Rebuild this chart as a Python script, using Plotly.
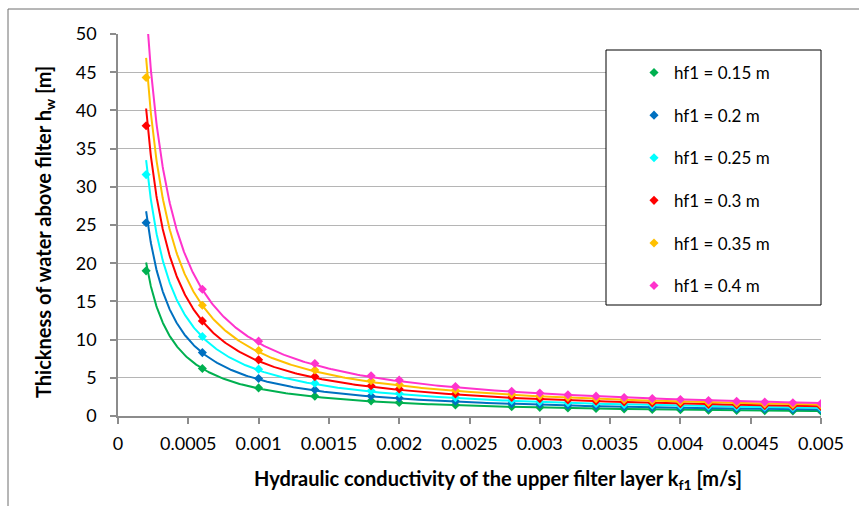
import numpy as np
import plotly.graph_objects as go

# ---- data ----
k_values = [0.0002, 0.0006, 0.001, 0.0014, 0.0018, 0.002, 0.0024, 0.0028, 0.003,
            0.0032, 0.0034, 0.0036, 0.0038, 0.004, 0.0042, 0.0044, 0.0046, 0.0048, 0.005]

h_015 = [19.0, 6.22, 3.68, 2.58, 1.98, 1.76, 1.44, 1.22, 1.13, 1.05, 0.98, 0.91,
         0.86, 0.81, 0.76, 0.72, 0.68, 0.65, 0.62]
h_020 = [25.3, 8.30, 4.90, 3.44, 2.63, 2.35, 1.93, 1.62, 1.50, 1.39, 1.30, 1.22,
         1.14, 1.08, 1.01, 0.96, 0.91, 0.86, 0.82]
h_025 = [31.6, 10.4, 6.13, 4.30, 3.29, 2.94, 2.41, 2.03, 1.88, 1.74, 1.63, 1.52,
         1.43, 1.34, 1.27, 1.20, 1.14, 1.08, 1.03]
h_030 = [38.0, 12.45, 7.35, 5.16, 3.95, 3.53, 2.89, 2.43, 2.25, 2.09, 1.95, 1.83,
         1.71, 1.61, 1.52, 1.44, 1.36, 1.29, 1.23]
h_035 = [44.3, 14.5, 8.58, 6.02, 4.61, 4.11, 3.37, 2.84, 2.63, 2.44, 2.28, 2.13,
         2.00, 1.88, 1.77, 1.68, 1.59, 1.51, 1.44]
h_040 = [50.6, 16.6, 9.80, 6.88, 5.27, 4.70, 3.85, 3.24, 3.00, 2.79, 2.60, 2.43,
         2.28, 2.15, 2.03, 1.92, 1.82, 1.73, 1.64]

series_names = ["hf1 = 0.15 m", "hf1 = 0.2 m", "hf1 = 0.25 m",
                "hf1 = 0.3 m", "hf1 = 0.35 m", "hf1 = 0.4 m"]
series_values = [h_015, h_020, h_025, h_030, h_035, h_040]
series_colors = ["#00B050", "#0070C0", "#00FFFF", "#FF0000", "#FFC000", "#FF33CC"]

x_tickvals = [0, 0.0005, 0.001, 0.0015, 0.002, 0.0025, 0.003, 0.0035, 0.004, 0.0045, 0.005]
x_ticktext = ["0", "0.0005", "0.001", "0.0015", "0.002", "0.0025", "0.003",
              "0.0035", "0.004", "0.0045", "0.005"]
y_tickvals = [0, 5, 10, 15, 20, 25, 30, 35, 40, 45, 50]

x_title = "<b>Hydraulic conductivity of the upper filter layer k<sub>f1</sub> [m/s]</b>"
y_title = "<b>Thickness of water above filter h<sub>w</sub> [m]</b>"

FONT = "Lato"

fig = go.Figure()

k_arr = np.array(k_values)
k_dense = np.geomspace(k_arr.min(), k_arr.max(), 300)

# power trendlines (as in the original spreadsheet chart)
for name, vals, col in zip(series_names, series_values, series_colors):
    b, ln_a = np.polyfit(np.log(k_arr), np.log(np.array(vals)), 1)
    fig.add_trace(go.Scatter(
        x=k_dense, y=np.exp(ln_a) * k_dense ** b, mode="lines",
        line=dict(color=col, width=2), showlegend=False, hoverinfo="skip"))

# data markers
for i, (name, vals, col) in enumerate(zip(series_names, series_values, series_colors)):
    fig.add_trace(go.Scatter(
        x=k_values, y=vals, mode="markers", name=name, legendgroup=f"g{i}",
        marker=dict(symbol="diamond", size=7, color=col)))

def px_x(p):
    return (p - 118) / 703.0

def px_y(p):
    return (416 - p) / 382.0

shapes = [
    # legend box
    dict(type="rect", xref="paper", yref="paper", x0=px_x(606), x1=px_x(821),
         y0=px_y(305), y1=px_y(50), line=dict(color="#000000", width=1),
         fillcolor="white", layer="above"),
    # chart frame (top and left edges visible)
    dict(type="line", xref="paper", yref="paper", x0=px_x(8), x1=px_x(870),
         y0=px_y(9), y1=px_y(9), line=dict(color="#6e6e6e", width=1)),
    dict(type="line", xref="paper", yref="paper", x0=px_x(8), x1=px_x(8),
         y0=px_y(9), y1=px_y(520), line=dict(color="#6e6e6e", width=1)),
]

annotations = [
    dict(text=x_title, xref="paper", yref="paper", x=px_x(497.5), y=px_y(479),
         xanchor="center", yanchor="middle", showarrow=False,
         font=dict(family=FONT, size=20, color="#000000")),
    dict(text=y_title, xref="paper", yref="paper", x=px_x(45), y=px_y(232),
         xanchor="center", yanchor="middle", showarrow=False, textangle=-90,
         font=dict(family=FONT, size=20, color="#000000")),
]

axis_col = "#8c8c8c"
fig.update_layout(
    width=859, height=506,
    margin=dict(l=118, r=38, t=34, b=90),
    paper_bgcolor="white", plot_bgcolor="white",
    font=dict(family=FONT, size=17, color="#000000"),
    shapes=shapes,
    annotations=annotations,
    legend=dict(x=px_x(634), xanchor="left", y=px_y(55), yanchor="top",
                bgcolor="rgba(0,0,0,0)", borderwidth=0,
                font=dict(family=FONT, size=17, color="#000000"),
                tracegroupgap=17.5),
    xaxis=dict(range=[0, 0.005], tickvals=x_tickvals, ticktext=x_ticktext,
               showgrid=False, zeroline=False, showline=True, linecolor=axis_col,
               linewidth=1.5, ticks="outside", ticklen=6, tickcolor=axis_col,
               tickwidth=1.5, ticklabelstandoff=5,
               tickfont=dict(family=FONT, size=18, color="#000000")),
    yaxis=dict(range=[0, 50], tickvals=y_tickvals, showgrid=True, gridcolor="#b5b5b5",
               gridwidth=1.3, zeroline=False, showline=True, linecolor=axis_col,
               linewidth=1.5, ticks="outside", ticklen=6, tickcolor=axis_col,
               tickwidth=1.5, ticklabelstandoff=10,
               tickfont=dict(family=FONT, size=18, color="#000000")),
)

fig.write_html("out.html")
